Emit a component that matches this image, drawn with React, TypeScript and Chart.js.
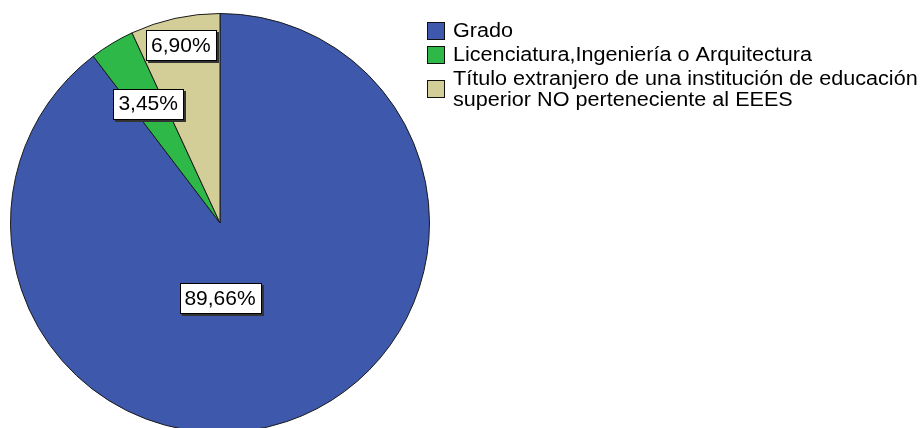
import React, { useEffect, useRef } from "react";
import { Chart, registerables } from "chart.js";

Chart.register(...registerables);

// ---- data ----
const categories: string[] = [
  "Grado",
  "Licenciatura,Ingeniería o Arquitectura",
  "Título extranjero de una institución de educación superior NO perteneciente al EEES",
];
const legendLines: string[][] = [
  ["Grado"],
  ["Licenciatura,Ingeniería o Arquitectura"],
  ["Título extranjero de una institución de educación", "superior NO perteneciente al EEES"],
];
const counts: number[] = [26, 1, 2];

// ---- style ----
const colors = ["#3E58AC", "#2EB848", "#D3CE97"];
const labelRadiusFraction = [0.36, 0.665, 0.87];
const labelAngleDeg: (number | null)[] = [90, null, null];
const FONT = '"Liberation Sans", Arial, sans-serif';

const pctText = (i: number) => {
  const total = counts.reduce((a, b) => a + b, 0);
  return ((counts[i] / total) * 100).toFixed(2).replace(".", ",") + "%";
};

const labelPlugin = {
  id: "pctLabels",
  afterDatasetsDraw(chart: any) {
    const ctx = chart.ctx as CanvasRenderingContext2D;
    const meta = chart.getDatasetMeta(0);
    ctx.save();
    ctx.font = `21px ${FONT}`;
    ctx.textAlign = "center";
    ctx.textBaseline = "middle";
    meta.data.forEach((arc: any, i: number) => {
      const { x, y, startAngle, endAngle, outerRadius } = arc.getProps(
        ["x", "y", "startAngle", "endAngle", "outerRadius"],
        true
      );
      const ang =
        labelAngleDeg[i] != null ? ((labelAngleDeg[i] as number) * Math.PI) / 180 : (startAngle + endAngle) / 2;
      const r = outerRadius * labelRadiusFraction[i];
      const cx = x + Math.cos(ang) * r;
      const cy = y + Math.sin(ang) * r;
      const txt = pctText(i);
      const w = Math.round(ctx.measureText(txt).width + 10);
      const h = 30;
      const bx = Math.round(cx - w / 2) + 0.5;
      const by = Math.round(cy - h / 2) + 0.5;
      ctx.fillStyle = "#333";
      ctx.fillRect(bx + 1.5, by + 1.5, w + 1, h + 1);
      ctx.fillStyle = "#fff";
      ctx.fillRect(bx, by, w, h);
      ctx.strokeStyle = "#000";
      ctx.lineWidth = 1;
      ctx.strokeRect(bx, by, w, h);
      ctx.fillStyle = "#000";
      ctx.fillText(txt, cx, cy + 1);
    });
    ctx.restore();
  },
};

const legendPlugin = {
  id: "sideLegend",
  afterDraw(chart: any) {
    const ctx = chart.ctx as CanvasRenderingContext2D;
    const squareX = 427;
    const squareSize = 17;
    const textX = 453;
    const lineHeight = 21;
    const itemGap = 3;
    const hScale = 1.08;
    let baseline = 37;
    ctx.save();
    ctx.font = `20px ${FONT}`;
    ctx.textAlign = "left";
    ctx.textBaseline = "alphabetic";
    legendLines.forEach((lines, i) => {
      const first = baseline;
      lines.forEach((ln, k) => {
        ctx.save();
        ctx.translate(textX, baseline);
        ctx.scale(hScale, 1);
        ctx.fillStyle = "#000";
        ctx.fillText(ln, 0, 0);
        ctx.restore();
        if (k < lines.length - 1) baseline += lineHeight;
      });
      const last = baseline;
      const centerY = (first + last) / 2 - 7;
      const sy = Math.round(centerY - squareSize / 2) + 0.5;
      ctx.fillStyle = colors[i];
      ctx.fillRect(squareX + 0.5, sy, squareSize, squareSize);
      ctx.strokeStyle = "#111";
      ctx.lineWidth = 1;
      ctx.strokeRect(squareX + 0.5, sy, squareSize, squareSize);
      baseline += lineHeight + itemGap;
    });
    ctx.restore();
  },
};

export default function App() {
  const canvasRef = useRef<HTMLCanvasElement | null>(null);

  useEffect(() => {
    const canvas = canvasRef.current;
    if (!canvas) return;
    const chart = new Chart(canvas, {
      type: "pie",
      data: {
        labels: categories,
        datasets: [
          {
            data: counts,
            backgroundColor: colors,
            borderColor: "#1a1a1a",
            borderWidth: 1,
          },
        ],
      },
      options: {
        responsive: false,
        animation: false,
        devicePixelRatio: 1,
        layout: { padding: { left: 10, top: 13, right: 491, bottom: 13 } },
        plugins: {
          legend: { display: false },
          tooltip: { enabled: false },
          title: { display: false },
        },
        events: [],
      },
      plugins: [labelPlugin, legendPlugin],
    });
    return () => chart.destroy();
  }, []);

  return (
    <div
      style={{
        position: "fixed",
        left: 0,
        top: 0,
        width: 921,
        height: 428,
        overflow: "hidden",
        background: "#fff",
      }}
    >
      <canvas ref={canvasRef} width={921} height={446} style={{ width: 921, height: 446, display: "block" }} />
    </div>
  );
}
